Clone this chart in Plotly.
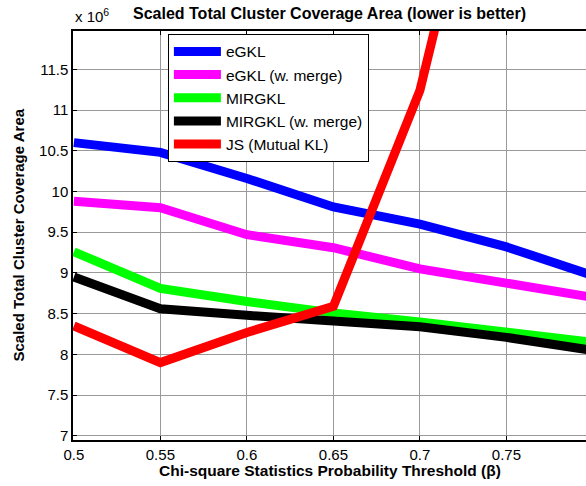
import plotly.graph_objects as go

beta = [0.5, 0.55, 0.6, 0.65, 0.7, 0.75, 0.8]
egkl = [10.60, 10.48, 10.16, 9.81, 9.60, 9.32, 8.97]
egkl_merge = [9.88, 9.80, 9.47, 9.31, 9.05, 8.87, 8.70]
mirgkl = [9.26, 8.81, 8.65, 8.51, 8.40, 8.28, 8.15]
mirgkl_merge = [8.95, 8.56, 8.48, 8.40, 8.34, 8.21, 8.05]
js = [8.35, 7.90, 8.27, 8.59, 11.24, 15.9, 20.0]

names = ["eGKL", "eGKL (w. merge)", "MIRGKL", "MIRGKL (w. merge)", "JS (Mutual KL)"]
colors = ["#0000FF", "#FF00FF", "#00FF00", "#000000", "#FF0000"]
series = [egkl, egkl_merge, mirgkl, mirgkl_merge, js]

xticks = [0.5, 0.55, 0.6, 0.65, 0.7, 0.75]
xtick_text = ["0.5", "0.55", "0.6", "0.65", "0.7", "0.75"]
yticks = [7, 7.5, 8, 8.5, 9, 9.5, 10, 10.5, 11, 11.5]
ytick_text = ["7", "7.5", "8", "8.5", "9", "9.5", "10", "10.5", "11", "11.5"]

FONT = "Arial, Liberation Sans, sans-serif"

fig = go.Figure()
for n, c, s in zip(names, colors, series):
    fig.add_trace(go.Scatter(x=beta, y=s, mode="lines", name=n,
                             line=dict(color=c, width=9)))

fig.update_layout(
    template="none",
    width=586, height=486,
    margin=dict(l=73, r=0, t=31, b=46, pad=0),
    paper_bgcolor="white", plot_bgcolor="white",
    font=dict(family=FONT, size=15, color="black"),
    showlegend=True,
    legend=dict(x=0.185, y=0.993, xanchor="left", yanchor="top",
                bordercolor="black", borderwidth=1, bgcolor="white",
                font=dict(family=FONT, size=15.5, color="black"),
                itemwidth=47, tracegroupgap=0),
    annotations=[
        dict(text="<b>Scaled Total Cluster Coverage Area (lower is better)</b>",
             xref="paper", yref="paper", x=0.5, y=1.0, yshift=18,
             xanchor="center", yanchor="middle", showarrow=False,
             font=dict(family=FONT, size=16)),
        dict(text="x 10<sup>6</sup>", xref="paper", yref="paper", x=0, y=1.0,
             yshift=16, xanchor="left", yanchor="middle", showarrow=False,
             font=dict(family=FONT, size=15)),
        dict(text="<b>Chi-square Statistics Probability Threshold (β)</b>",
             xref="paper", yref="paper", x=0.5, y=0, yshift=-30,
             xanchor="center", yanchor="middle", showarrow=False,
             font=dict(family=FONT, size=15.5)),
        dict(text="<b>Scaled Total Cluster Coverage Area</b>",
             xref="paper", yref="paper", x=0, xshift=-55, y=0.5,
             xanchor="center", yanchor="middle", showarrow=False, textangle=-90,
             font=dict(family=FONT, size=15)),
    ],
)

fig.update_xaxes(range=[0.4995, 0.796], tickvals=xticks, ticktext=xtick_text,
                 automargin=False,
                 showgrid=True, gridcolor="#9a9a9a", gridwidth=1,
                 showline=True, linecolor="black", linewidth=1.5, mirror="ticks",
                 ticks="inside", ticklen=4, tickcolor="black", tickwidth=1,
                 zeroline=False, tickfont=dict(family=FONT, size=15))
fig.update_yaxes(range=[6.95, 11.97], tickvals=yticks, ticktext=ytick_text,
                 automargin=False,
                 showgrid=True, gridcolor="#9a9a9a", gridwidth=1,
                 showline=True, linecolor="black", linewidth=1.5,
                 ticks="inside", ticklen=4, tickcolor="black", tickwidth=1,
                 zeroline=False, tickfont=dict(family=FONT, size=15))

fig.write_html("out.html", config={"displayModeBar": False},
               post_script="document.body.style.margin='0px';document.body.style.padding='0px';")
